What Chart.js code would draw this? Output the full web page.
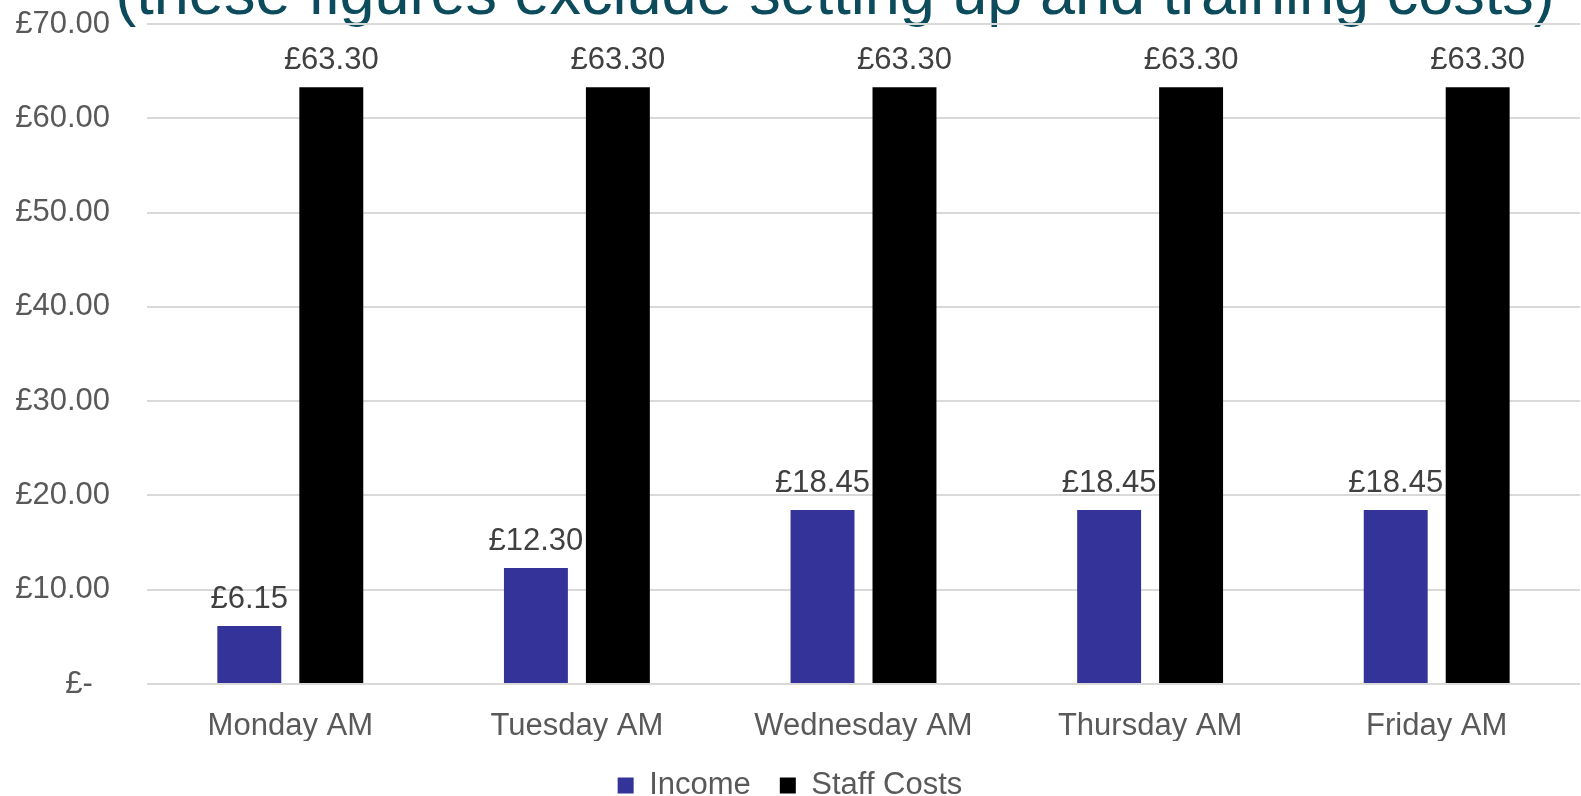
<!DOCTYPE html>
<html>
<head>
<meta charset="utf-8">
<script src="https://cdn.jsdelivr.net/npm/chart.js@4"></script>
<style>
  body { margin: 0; background: #fff; }
  #wrap { width: 1581px; height: 796px; position: relative; }
</style>
</head>
<body>
<div id="wrap"><canvas id="myChart"></canvas></div>
<script>
'use strict';

let days = ['Monday AM', 'Tuesday AM', 'Wednesday AM', 'Thursday AM', 'Friday AM'];
let income = [6.15, 12.30, 18.45, 18.45, 18.45];
let staffCosts = [63.30, 63.30, 63.30, 63.30, 63.30];
let yTicks = [0, 10, 20, 30, 40, 50, 60, 70];
let titleText = '(these figures exclude setting up and training costs)';

let fontName = '"Liberation Sans", Arial, sans-serif';

function money(v) {
  if (v === 0) {
    return '£-  ';
  }
  return '£' + v.toFixed(2);
}

// title sits above the plot and gets cut off at the top edge
let titlePlugin = {
  id: 'cutTitle',
  beforeDraw(chart) {
    let ctx = chart.ctx;
    ctx.save();
    ctx.font = '63px ' + fontName;
    ctx.fillStyle = '#0b4b5c';
    ctx.textAlign = 'center';
    ctx.textBaseline = 'alphabetic';
    ctx.fillText(titleText, 835, 14);
    ctx.restore();
  }
};

// value above every bar
let valuePlugin = {
  id: 'barValues',
  afterDatasetsDraw(chart) {
    let ctx = chart.ctx;
    ctx.save();
    ctx.font = '31px ' + fontName;
    ctx.fillStyle = '#404040';
    ctx.textAlign = 'center';
    ctx.textBaseline = 'alphabetic';
    chart.data.datasets.forEach(function (ds, i) {
      let meta = chart.getDatasetMeta(i);
      meta.data.forEach(function (bar, j) {
        ctx.fillText(money(ds.data[j]), bar.x, bar.y - 18);
      });
    });
    ctx.restore();
  }
};

// keep the legend short so it sits low, the item padding is for spacing only
let legendHeightPlugin = {
  id: 'legendHeight',
  beforeLayout(chart) {
    let lg = chart.legend;
    if (lg && !lg.fitWrapped) {
      let origFit = lg.fit;
      lg.fit = function () {
        origFit.call(this);
        this.height = 55;
      };
      lg.fitWrapped = true;
    }
  }
};

let ctx = document.getElementById('myChart').getContext('2d');
let myChart = new Chart(ctx, {
  type: 'bar',
  data: {
    labels: days,
    datasets: [{
      label: 'Income',
      data: income,
      backgroundColor: '#333399',
    },
    {
      label: 'Staff Costs',
      data: staffCosts,
      backgroundColor: '#000000',
    }],
  },
  options: {
    responsive: true,
    maintainAspectRatio: false,
    animation: false,
    barPercentage: 0.78,
    categoryPercentage: 0.572,
    layout: {
      padding: { top: 24, right: 1, left: 0, bottom: 0 }
    },
    plugins: {
      tooltip: { enabled: false },
      legend: {
        position: 'bottom',
        labels: {
          boxWidth: 16,
          boxHeight: 16,
          padding: 29,
          color: '#595959',
          font: { family: fontName, size: 31 }
        }
      }
    },
    scales: {
      x: {
        grid: { display: false },
        border: { display: false },
        ticks: {
          color: '#595959',
          padding: 16,
          font: { family: fontName, size: 31 }
        },
        afterFit(scale) {
          scale.height = 57;
        }
      },
      y: {
        min: 0,
        max: 70,
        afterBuildTicks(scale) {
          scale.ticks = yTicks.map(v => ({ value: v }));
        },
        grid: { color: '#d9d9d9', lineWidth: 2, drawTicks: true, tickLength: 37, tickColor: 'rgba(0,0,0,0)' },
        border: { display: false },
        ticks: {
          color: '#595959',
          padding: 0,
          font: { family: fontName, size: 31 },
          callback: v => money(v)
        },
        afterFit(scale) {
          scale.width = 147;
        }
      }
    }
  },
  plugins: [titlePlugin, valuePlugin, legendHeightPlugin]
});
</script>
</body>
</html>
